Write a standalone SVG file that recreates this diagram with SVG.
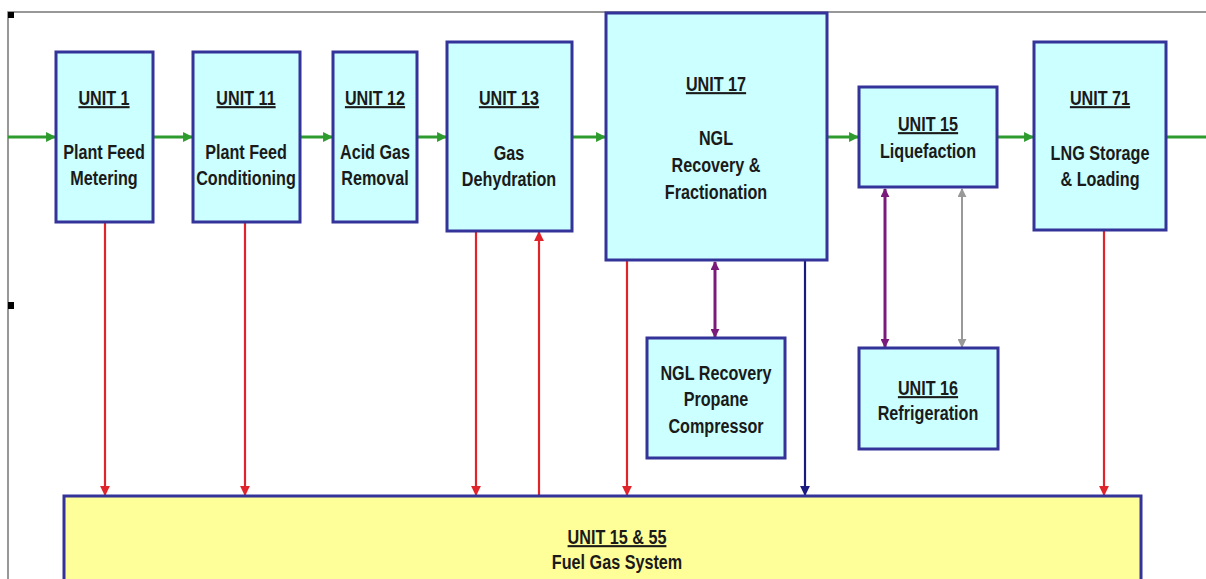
<svg xmlns="http://www.w3.org/2000/svg" width="1206" height="579" viewBox="0 0 1206 579">
<style>
.box{fill:#ccffff;stroke:#333399;stroke-width:3}
.fuel{fill:#ffff99;stroke:#333399;stroke-width:3}
text{font-family:"Liberation Sans",Arial,sans-serif;font-weight:bold;font-size:21px;fill:#1a1a1a;text-anchor:middle}
.u{text-decoration:underline}
.g{stroke:#2e9b2e;stroke-width:3;fill:none}
.r{stroke:#e0242c;stroke-width:2.2;fill:none}
.p{stroke:#7a1a7a;stroke-width:3;fill:none}
.gy{stroke:#999999;stroke-width:2;fill:none}
.n{stroke:#1a1a80;stroke-width:2.2;fill:none}
</style>
<defs>
<marker id="ag" viewBox="0 0 10 10" refX="9" refY="5" markerWidth="3.3" markerHeight="3.3" orient="auto"><path d="M0,0L10,5L0,10z" fill="#2e9b2e"/></marker>
<marker id="ar" viewBox="0 0 10 10" refX="9" refY="5" markerWidth="4.5" markerHeight="4.5" orient="auto"><path d="M0,0L10,5L0,10z" fill="#e0242c"/></marker>
<marker id="ap" viewBox="0 0 10 10" refX="9" refY="5" markerWidth="3" markerHeight="3" orient="auto-start-reverse"><path d="M0,0L10,5L0,10z" fill="#7a1a7a"/></marker>
<marker id="agy" viewBox="0 0 10 10" refX="9" refY="5" markerWidth="4.5" markerHeight="4.5" orient="auto-start-reverse"><path d="M0,0L10,5L0,10z" fill="#999999"/></marker>
<marker id="an" viewBox="0 0 10 10" refX="9" refY="5" markerWidth="4.5" markerHeight="4.5" orient="auto"><path d="M0,0L10,5L0,10z" fill="#1a1a80"/></marker>
</defs>
<rect width="1206" height="579" fill="#ffffff"/>
<g id="frame">
<path d="M8,579V12H1206" fill="none" stroke="#777777" stroke-width="1.5"/>
<rect x="8" y="12" width="6" height="6" fill="#000"/>
<rect x="610" y="14" width="5" height="5" fill="#000"/>
<rect x="8" y="302" width="6" height="7" fill="#000"/>
</g>
<g id="connectors">
<line class="g" x1="8" y1="137" x2="55" y2="137" marker-end="url(#ag)"/>
<line class="g" x1="154" y1="137" x2="192" y2="137" marker-end="url(#ag)"/>
<line class="g" x1="301" y1="137" x2="332" y2="137" marker-end="url(#ag)"/>
<line class="g" x1="418" y1="137" x2="446" y2="137" marker-end="url(#ag)"/>
<line class="g" x1="573" y1="137" x2="605" y2="137" marker-end="url(#ag)"/>
<line class="g" x1="828" y1="137" x2="858" y2="137" marker-end="url(#ag)"/>
<line class="g" x1="998" y1="137" x2="1033" y2="137" marker-end="url(#ag)"/>
<line class="g" x1="1167" y1="137" x2="1206" y2="137"/>
<line class="r" x1="105" y1="222" x2="105" y2="495" marker-end="url(#ar)"/>
<line class="r" x1="245" y1="222" x2="245" y2="495" marker-end="url(#ar)"/>
<line class="r" x1="476" y1="232" x2="476" y2="495" marker-end="url(#ar)"/>
<line class="r" x1="539" y1="496" x2="539" y2="232" marker-end="url(#ar)"/>
<line class="r" x1="627" y1="261" x2="627" y2="495" marker-end="url(#ar)"/>
<line class="n" x1="805" y1="261" x2="805" y2="495" marker-end="url(#an)"/>
<line class="r" x1="1104" y1="231" x2="1104" y2="495" marker-end="url(#ar)"/>
<line class="p" x1="715" y1="262" x2="715" y2="337" marker-start="url(#ap)" marker-end="url(#ap)"/>
<line class="p" x1="885" y1="189" x2="885" y2="347" marker-start="url(#ap)" marker-end="url(#ap)"/>
<line class="gy" x1="962" y1="189" x2="962" y2="347" marker-start="url(#agy)" marker-end="url(#agy)"/>
</g>
<g id="unit1"><rect class="box" x="56" y="52" width="97" height="170"/>
<g transform="translate(104 0) scale(0.77 1)"><text x="0" y="105" class="u">UNIT 1</text><text x="0" y="159">Plant Feed</text><text x="0" y="185">Metering</text></g></g>
<g id="unit11"><rect class="box" x="193" y="52" width="107" height="170"/>
<g transform="translate(246 0) scale(0.77 1)"><text x="0" y="105" class="u">UNIT 11</text><text x="0" y="159">Plant Feed</text><text x="0" y="185">Conditioning</text></g></g>
<g id="unit12"><rect class="box" x="333" y="52" width="84" height="170"/>
<g transform="translate(375 0) scale(0.77 1)"><text x="0" y="105" class="u">UNIT 12</text><text x="0" y="159">Acid Gas</text><text x="0" y="185">Removal</text></g></g>
<g id="unit13"><rect class="box" x="447" y="42" width="125" height="189"/>
<g transform="translate(509 0) scale(0.77 1)"><text x="0" y="105" class="u">UNIT 13</text><text x="0" y="160">Gas</text><text x="0" y="186">Dehydration</text></g></g>
<g id="unit17"><rect class="box" x="606" y="13" width="221" height="247"/>
<g transform="translate(716 0) scale(0.77 1)"><text x="0" y="91" class="u">UNIT 17</text><text x="0" y="145">NGL</text><text x="0" y="172">Recovery &amp;</text><text x="0" y="199">Fractionation</text></g></g>
<g id="unit15"><rect class="box" x="859" y="87" width="138" height="100"/>
<g transform="translate(928 0) scale(0.77 1)"><text x="0" y="131" class="u">UNIT 15</text><text x="0" y="158">Liquefaction</text></g></g>
<g id="unit71"><rect class="box" x="1034" y="42" width="132" height="188"/>
<g transform="translate(1100 0) scale(0.77 1)"><text x="0" y="105" class="u">UNIT 71</text><text x="0" y="160">LNG Storage</text><text x="0" y="186">&amp; Loading</text></g></g>
<g id="compressor"><rect class="box" x="647" y="338" width="138" height="120"/>
<g transform="translate(716 0) scale(0.77 1)"><text x="0" y="380">NGL Recovery</text><text x="0" y="406">Propane</text><text x="0" y="433">Compressor</text></g></g>
<g id="unit16"><rect class="box" x="859" y="348" width="139" height="101"/>
<g transform="translate(928 0) scale(0.77 1)"><text x="0" y="395" class="u">UNIT 16</text><text x="0" y="420">Refrigeration</text></g></g>
<g id="fuelgas"><rect class="fuel" x="64" y="496" width="1077" height="90"/>
<g transform="translate(617 0) scale(0.77 1)"><text x="0" y="544" class="u">UNIT 15 &amp; 55</text><text x="0" y="569">Fuel Gas System</text></g></g>
</svg>
